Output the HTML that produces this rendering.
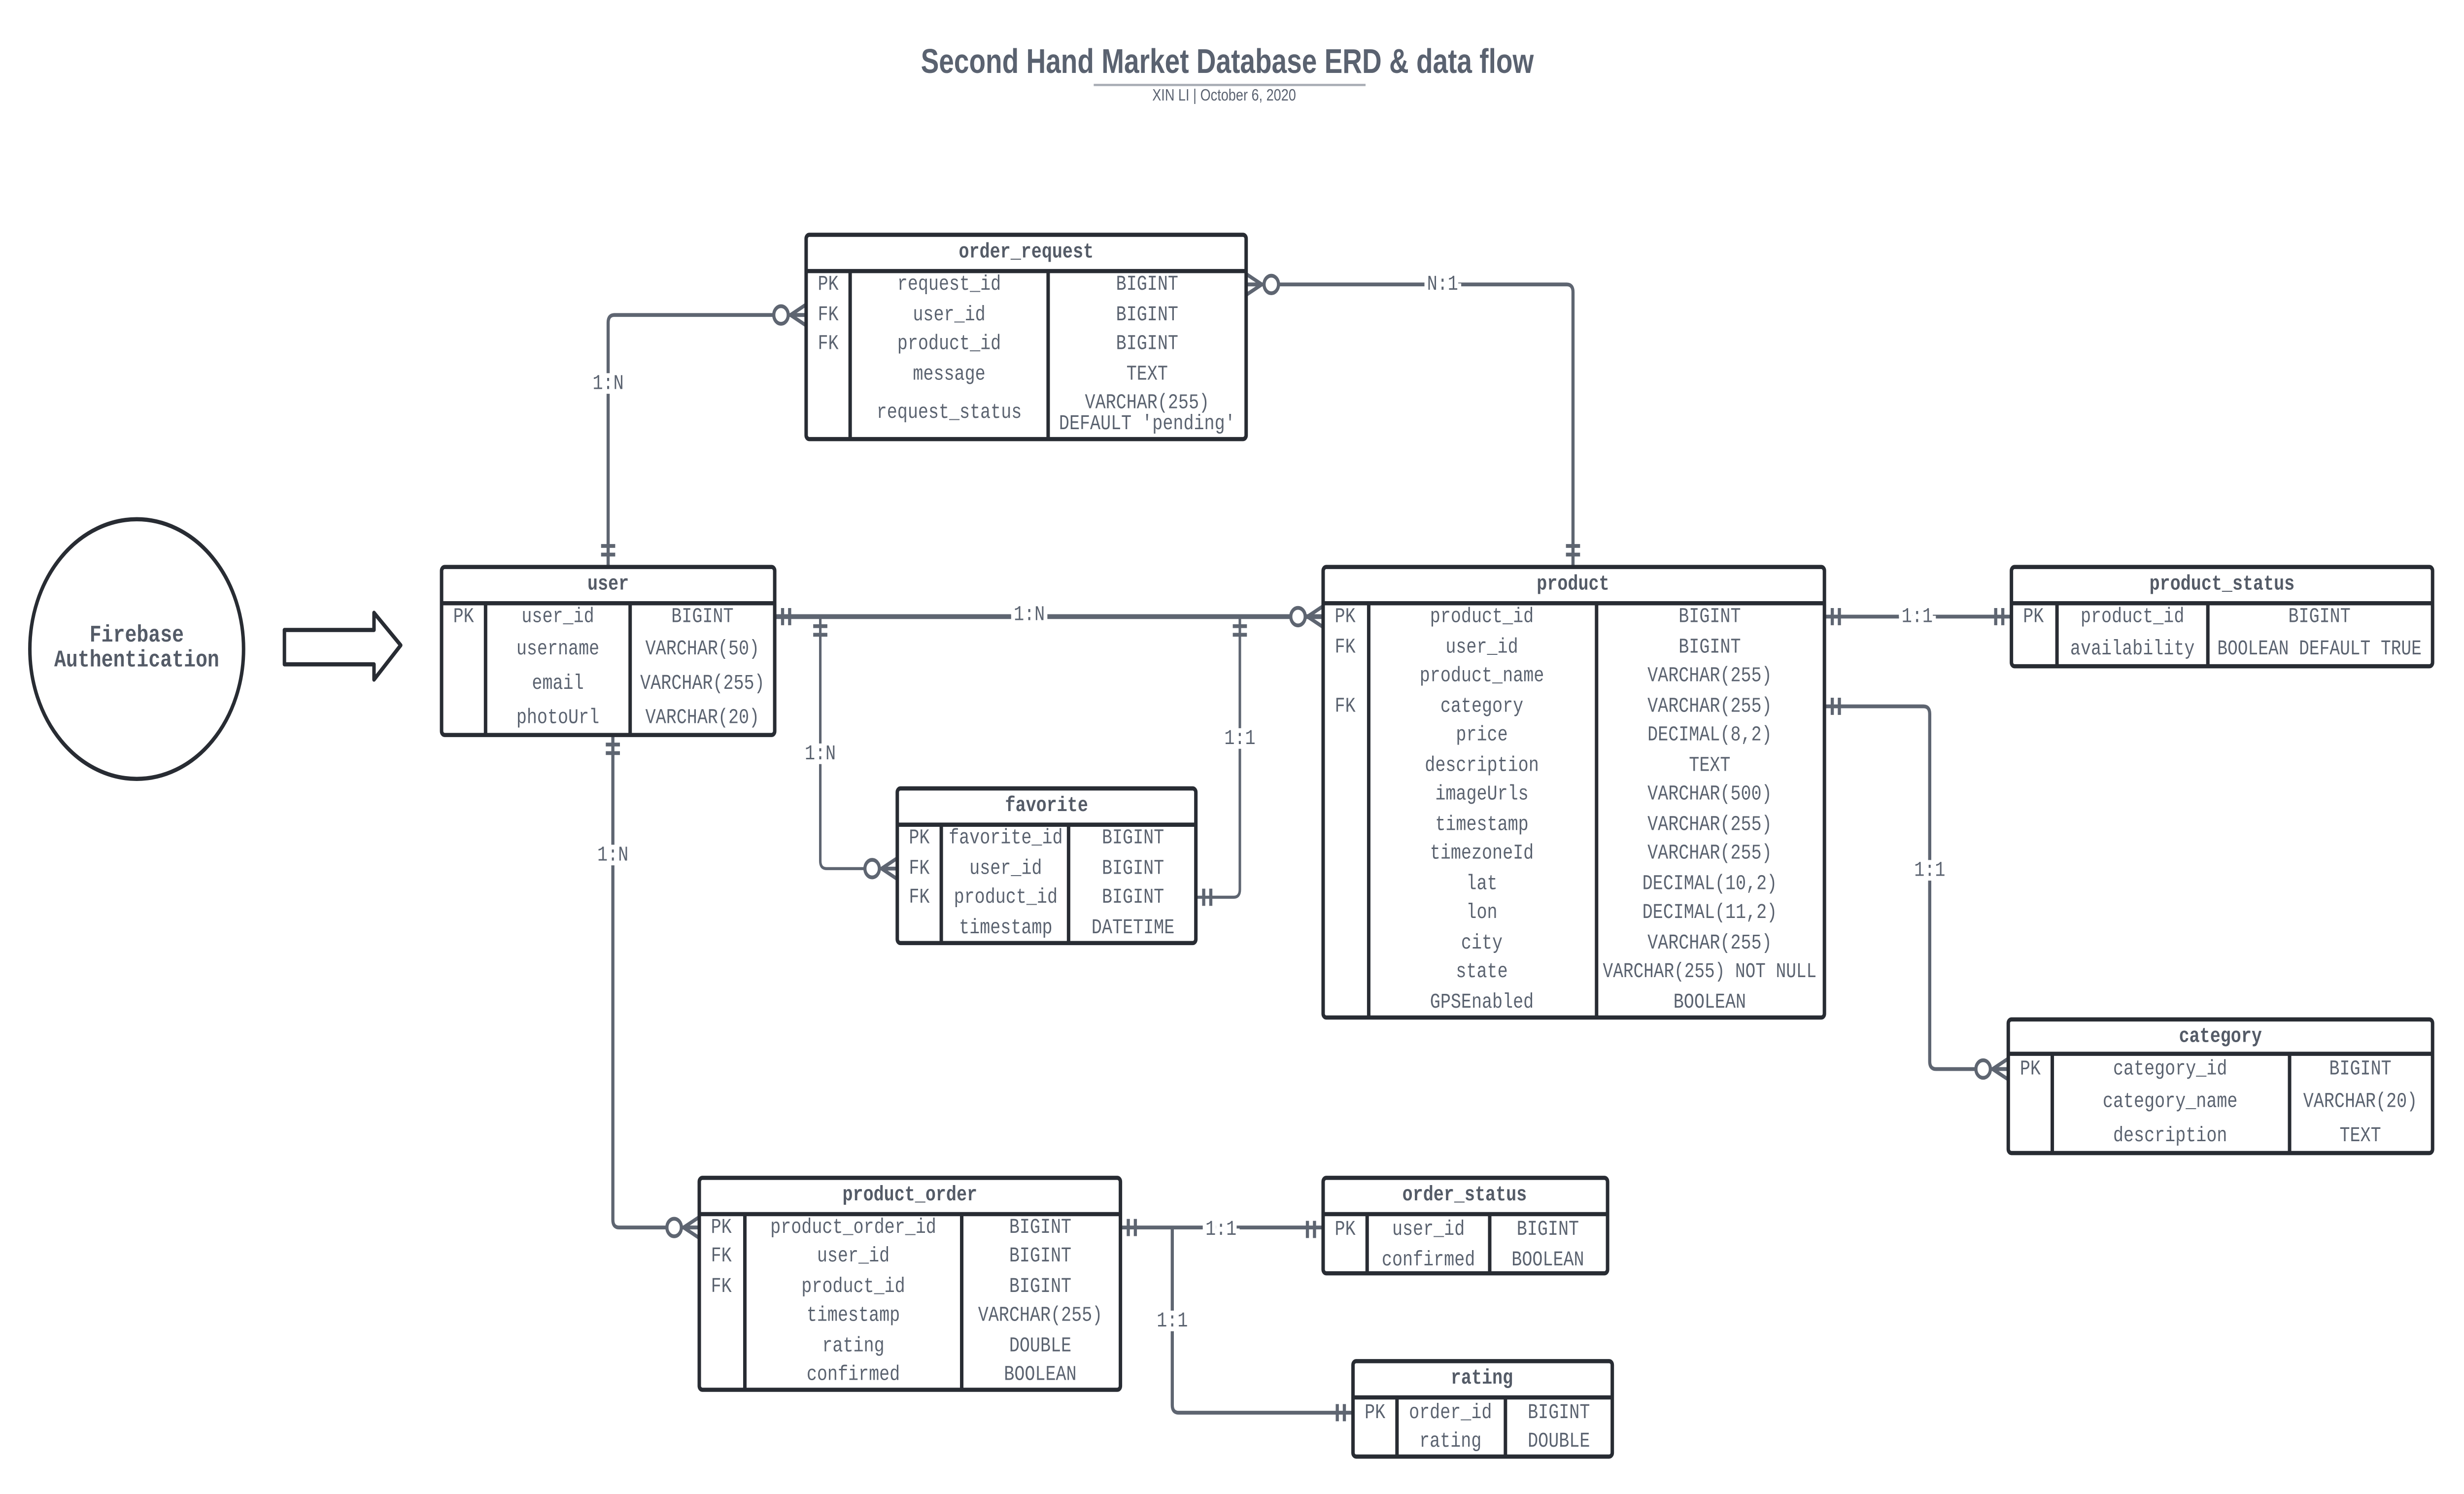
<!DOCTYPE html>
<html><head><meta charset="utf-8">
<style>
html,body{margin:0;padding:0;background:#fff;overflow:hidden;width:100%;height:100%;}
svg{display:block;position:absolute;left:0;top:0;width:100vw;height:100vh;}
.t{font-family:"Liberation Mono","DejaVu Sans Mono",monospace;font-size:11px;fill:#5b6370;text-anchor:middle;dominant-baseline:central;}
.h{font-family:"Liberation Mono","DejaVu Sans Mono",monospace;font-size:11px;font-weight:bold;fill:#545b67;text-anchor:middle;dominant-baseline:central;}
.lb{font-family:"Liberation Mono","DejaVu Sans Mono",monospace;font-size:11px;fill:#5b6370;text-anchor:middle;dominant-baseline:central;paint-order:stroke;stroke:#fff;stroke-width:5px;}
.box{fill:#fff;stroke:#282c33;stroke-width:2.2;}
.ln{stroke:#282c33;stroke-width:2.2;}
.c{fill:none;stroke:#5e6571;stroke-width:2;}
.s{stroke:#5e6571;stroke-width:2;fill:none;}
.o{fill:#fff;stroke:#5e6571;stroke-width:2;}
</style></head>
<body>
<svg viewBox="0 0 1568 782.6" preserveAspectRatio="none" xmlns="http://www.w3.org/2000/svg">
<rect width="1568" height="782.6" fill="#fff"/>

<text x="781" y="32" text-anchor="middle" dominant-baseline="central" font-family="Liberation Sans, Arial, sans-serif" font-weight="bold" font-size="18" fill="#5a6270" textLength="390" lengthAdjust="spacingAndGlyphs">Second Hand Market Database ERD &amp; data flow</text>
<line x1="696" y1="44.5" x2="869" y2="44.5" stroke="#a9adb5" stroke-width="1.2"/>
<text x="779" y="50" text-anchor="middle" dominant-baseline="central" font-family="Liberation Sans, Arial, sans-serif" font-size="8.5" fill="#5a6270">XIN LI  |  October 6, 2020</text>

<ellipse cx="87" cy="340" rx="68" ry="68" fill="#fff" stroke="#282c33" stroke-width="2.2"/>
<text x="87" y="333" class="h" style="font-size:12.5px">Firebase</text>
<text x="87" y="346" class="h" style="font-size:12.5px">Authentication</text>
<path d="M181,330 H238 V321 L255,338 L238,356 V348 H181 Z" fill="#fff" stroke="#282c33" stroke-width="2.2" stroke-linejoin="round"/>

<path class="c" d="M387,297 V169 Q387,165 391,165 H513"/>
<path class="c" d="M793,149 H997 Q1001,149 1001,153 V297"/>
<path class="c" style="stroke-width:2.5" d="M493,323 H842"/>
<path class="c" style="stroke-width:1.6" d="M522,323 V451 Q522,455 526,455 H571"/>
<path class="c" style="stroke-width:1.6" d="M789,323 V466 Q789,470 785,470 H761"/>
<path class="c" d="M390,385 V639 Q390,643 394,643 H445"/>
<path class="c" d="M1161,323 H1280"/>
<path class="c" d="M1161,370 H1224 Q1228,370 1228,374 V556 Q1228,560 1232,560 H1278"/>
<path class="c" d="M713,643 H842"/>
<path class="c" d="M746,643 V736 Q746,740 750,740 H861"/>

<g class="s">
<path d="M382.5,286 H391.5 M382.5,290.5 H391.5"/>
<path d="M996.5,286 H1005.5 M996.5,290.5 H1005.5"/>
<path d="M498,318.5 V327.5 M502.5,318.5 V327.5"/>
<path d="M517.5,328 H526.5 M517.5,332.5 H526.5"/>
<path d="M784.5,328 H793.5 M784.5,332.5 H793.5"/>
<path d="M766,465.5 V474.5 M770.5,465.5 V474.5"/>
<path d="M385.5,390 H394.5 M385.5,394.5 H394.5"/>
<path d="M1166,318.5 V327.5 M1170.5,318.5 V327.5"/>
<path d="M1270,318.5 V327.5 M1274.5,318.5 V327.5"/>
<path d="M1166,365.5 V374.5 M1170.5,365.5 V374.5"/>
<path d="M718,638.5 V647.5 M722.5,638.5 V647.5"/>
<path d="M832,639.5 V648.5 M836.5,639.5 V648.5"/>
<path d="M851,735.5 V744.5 M855.5,735.5 V744.5"/>
</g>

<g class="s">
<path d="M503,165 L513,159.5 M503,165 H513 M503,165 L513,170.5"/>
<path d="M803,149 L793,143.5 M803,149 H793 M803,149 L793,154.5"/>
<path d="M832,323 L842,317.5 M832,323 H842 M832,323 L842,328.5"/>
<path d="M561,455 L571,449.5 M561,455 H571 M561,455 L571,460.5"/>
<path d="M435,643 L445,637.5 M435,643 H445 M435,643 L445,648.5"/>
<path d="M1268,560 L1278,554.5 M1268,560 H1278 M1268,560 L1278,565.5"/>
</g>
<circle class="o" cx="497" cy="165" r="4.6"/>
<circle class="o" cx="809" cy="149" r="4.6"/>
<circle class="o" cx="826" cy="323" r="4.6"/>
<circle class="o" cx="555" cy="455" r="4.6"/>
<circle class="o" cx="429" cy="643" r="4.6"/>
<circle class="o" cx="1262" cy="560" r="4.6"/>

<text class="lb" x="387" y="201">1:N</text>
<text class="lb" x="918" y="149">N:1</text>
<text class="lb" x="655" y="322">1:N</text>
<text class="lb" x="522" y="395">1:N</text>
<text class="lb" x="789" y="387">1:1</text>
<text class="lb" x="390" y="448">1:N</text>
<text class="lb" x="1220" y="323">1:1</text>
<text class="lb" x="1228" y="456">1:1</text>
<text class="lb" x="777" y="644">1:1</text>
<text class="lb" x="746" y="692">1:1</text>

<rect class="box" x="513" y="123" width="280" height="107" rx="2"/>
<line class="ln" x1="513" y1="142" x2="793" y2="142"/>
<line class="ln" x1="541" y1="142" x2="541" y2="230"/>
<line class="ln" x1="667" y1="142" x2="667" y2="230"/>
<text class="h" x="653" y="132">order_request</text>
<text class="t" x="527" y="149">PK</text><text class="t" x="604" y="149">request_id</text><text class="t" x="730" y="149">BIGINT</text>
<text class="t" x="527" y="165">FK</text><text class="t" x="604" y="165">user_id</text><text class="t" x="730" y="165">BIGINT</text>
<text class="t" x="527" y="180">FK</text><text class="t" x="604" y="180">product_id</text><text class="t" x="730" y="180">BIGINT</text>
<text class="t" x="604" y="196">message</text><text class="t" x="730" y="196">TEXT</text>
<text class="t" x="604" y="216">request_status</text><text class="t" x="730" y="211">VARCHAR(255)</text><text class="t" x="730" y="222">DEFAULT 'pending'</text>

<rect class="box" x="281" y="297" width="212" height="88" rx="2"/>
<line class="ln" x1="281" y1="316" x2="493" y2="316"/>
<line class="ln" x1="309" y1="316" x2="309" y2="385"/>
<line class="ln" x1="401" y1="316" x2="401" y2="385"/>
<text class="h" x="387" y="306">user</text>
<text class="t" x="295" y="323">PK</text><text class="t" x="355" y="323">user_id</text><text class="t" x="447" y="323">BIGINT</text>
<text class="t" x="355" y="340">username</text><text class="t" x="447" y="340">VARCHAR(50)</text>
<text class="t" x="355" y="358">email</text><text class="t" x="447" y="358">VARCHAR(255)</text>
<text class="t" x="355" y="376">photoUrl</text><text class="t" x="447" y="376">VARCHAR(20)</text>

<rect class="box" x="842" y="297" width="319" height="236" rx="2"/>
<line class="ln" x1="842" y1="316" x2="1161" y2="316"/>
<line class="ln" x1="871" y1="316" x2="871" y2="533"/>
<line class="ln" x1="1016" y1="316" x2="1016" y2="533"/>
<text class="h" x="1001" y="306">product</text>
<text class="t" x="856" y="323">PK</text><text class="t" x="943" y="323">product_id</text><text class="t" x="1088" y="323">BIGINT</text>
<text class="t" x="856" y="339">FK</text><text class="t" x="943" y="339">user_id</text><text class="t" x="1088" y="339">BIGINT</text>
<text class="t" x="943" y="354">product_name</text><text class="t" x="1088" y="354">VARCHAR(255)</text>
<text class="t" x="856" y="370">FK</text><text class="t" x="943" y="370">category</text><text class="t" x="1088" y="370">VARCHAR(255)</text>
<text class="t" x="943" y="385">price</text><text class="t" x="1088" y="385">DECIMAL(8,2)</text>
<text class="t" x="943" y="401">description</text><text class="t" x="1088" y="401">TEXT</text>
<text class="t" x="943" y="416">imageUrls</text><text class="t" x="1088" y="416">VARCHAR(500)</text>
<text class="t" x="943" y="432">timestamp</text><text class="t" x="1088" y="432">VARCHAR(255)</text>
<text class="t" x="943" y="447">timezoneId</text><text class="t" x="1088" y="447">VARCHAR(255)</text>
<text class="t" x="943" y="463">lat</text><text class="t" x="1088" y="463">DECIMAL(10,2)</text>
<text class="t" x="943" y="478">lon</text><text class="t" x="1088" y="478">DECIMAL(11,2)</text>
<text class="t" x="943" y="494">city</text><text class="t" x="1088" y="494">VARCHAR(255)</text>
<text class="t" x="943" y="509">state</text><text class="t" x="1088" y="509" textLength="136" lengthAdjust="spacingAndGlyphs">VARCHAR(255) NOT NULL</text>
<text class="t" x="943" y="525">GPSEnabled</text><text class="t" x="1088" y="525">BOOLEAN</text>

<rect class="box" x="1280" y="297" width="268" height="52" rx="2"/>
<line class="ln" x1="1280" y1="316" x2="1548" y2="316"/>
<line class="ln" x1="1309" y1="316" x2="1309" y2="349"/>
<line class="ln" x1="1405" y1="316" x2="1405" y2="349"/>
<text class="h" x="1414" y="306">product_status</text>
<text class="t" x="1294" y="323">PK</text><text class="t" x="1357" y="323">product_id</text><text class="t" x="1476" y="323">BIGINT</text>
<text class="t" x="1357" y="340">availability</text><text class="t" x="1476" y="340" textLength="130" lengthAdjust="spacingAndGlyphs">BOOLEAN DEFAULT TRUE</text>

<rect class="box" x="1278" y="534" width="270" height="70" rx="2"/>
<line class="ln" x1="1278" y1="552" x2="1548" y2="552"/>
<line class="ln" x1="1306" y1="552" x2="1306" y2="604"/>
<line class="ln" x1="1457" y1="552" x2="1457" y2="604"/>
<text class="h" x="1413" y="543">category</text>
<text class="t" x="1292" y="560">PK</text><text class="t" x="1381" y="560">category_id</text><text class="t" x="1502" y="560">BIGINT</text>
<text class="t" x="1381" y="577">category_name</text><text class="t" x="1502" y="577">VARCHAR(20)</text>
<text class="t" x="1381" y="595">description</text><text class="t" x="1502" y="595">TEXT</text>

<rect class="box" x="571" y="413" width="190" height="81" rx="2"/>
<line class="ln" x1="571" y1="432" x2="761" y2="432"/>
<line class="ln" x1="599" y1="432" x2="599" y2="494"/>
<line class="ln" x1="680" y1="432" x2="680" y2="494"/>
<text class="h" x="666" y="422">favorite</text>
<text class="t" x="585" y="439">PK</text><text class="t" x="640" y="439">favorite_id</text><text class="t" x="721" y="439">BIGINT</text>
<text class="t" x="585" y="455">FK</text><text class="t" x="640" y="455">user_id</text><text class="t" x="721" y="455">BIGINT</text>
<text class="t" x="585" y="470">FK</text><text class="t" x="640" y="470">product_id</text><text class="t" x="721" y="470">BIGINT</text>
<text class="t" x="640" y="486">timestamp</text><text class="t" x="721" y="486">DATETIME</text>

<rect class="box" x="445" y="617" width="268" height="111" rx="2"/>
<line class="ln" x1="445" y1="636" x2="713" y2="636"/>
<line class="ln" x1="474" y1="636" x2="474" y2="728"/>
<line class="ln" x1="612" y1="636" x2="612" y2="728"/>
<text class="h" x="579" y="626">product_order</text>
<text class="t" x="459" y="643">PK</text><text class="t" x="543" y="643">product_order_id</text><text class="t" x="662" y="643">BIGINT</text>
<text class="t" x="459" y="658">FK</text><text class="t" x="543" y="658">user_id</text><text class="t" x="662" y="658">BIGINT</text>
<text class="t" x="459" y="674">FK</text><text class="t" x="543" y="674">product_id</text><text class="t" x="662" y="674">BIGINT</text>
<text class="t" x="543" y="689">timestamp</text><text class="t" x="662" y="689">VARCHAR(255)</text>
<text class="t" x="543" y="705">rating</text><text class="t" x="662" y="705">DOUBLE</text>
<text class="t" x="543" y="720">confirmed</text><text class="t" x="662" y="720">BOOLEAN</text>

<rect class="box" x="842" y="617" width="181" height="50" rx="2"/>
<line class="ln" x1="842" y1="636" x2="1023" y2="636"/>
<line class="ln" x1="870" y1="636" x2="870" y2="667"/>
<line class="ln" x1="948" y1="636" x2="948" y2="667"/>
<text class="h" x="932" y="626">order_status</text>
<text class="t" x="856" y="644">PK</text><text class="t" x="909" y="644">user_id</text><text class="t" x="985" y="644">BIGINT</text>
<text class="t" x="909" y="660">confirmed</text><text class="t" x="985" y="660">BOOLEAN</text>

<rect class="box" x="861" y="713" width="165" height="50" rx="2"/>
<line class="ln" x1="861" y1="732" x2="1026" y2="732"/>
<line class="ln" x1="889" y1="732" x2="889" y2="763"/>
<line class="ln" x1="958" y1="732" x2="958" y2="763"/>
<text class="h" x="943" y="722">rating</text>
<text class="t" x="875" y="740">PK</text><text class="t" x="923" y="740">order_id</text><text class="t" x="992" y="740">BIGINT</text>
<text class="t" x="923" y="755">rating</text><text class="t" x="992" y="755">DOUBLE</text>
</svg>
</body></html>
